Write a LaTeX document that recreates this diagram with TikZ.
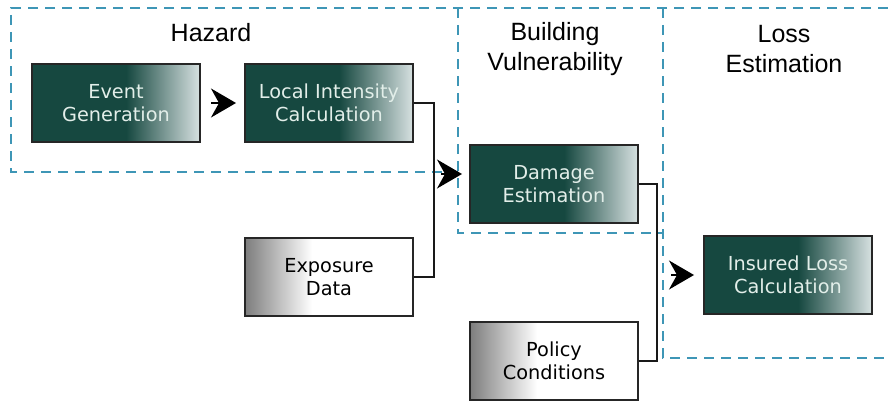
\documentclass[tikz,border=0pt]{standalone}
\usepackage{fontspec}
\usetikzlibrary{arrows.meta,positioning,calc}
\newfontfamily\boxfont{DejaVu Sans}
\newfontfamily\headfont{Liberation Sans}
\definecolor{stagedark}{RGB}{22,72,64}
\definecolor{stagefade}{RGB}{215,225,225}
\definecolor{stagetext}{RGB}{226,238,233}
\definecolor{inputgrey}{RGB}{125,125,125}
\definecolor{zoneblue}{RGB}{62,150,182}
\pgfdeclarehorizontalshading{stagefill}{100bp}{color(0bp)=(stagedark); color(25bp)=(stagedark);
    color(53bp)=(stagedark); color(75bp)=(stagefade); color(100bp)=(stagefade)}
\pgfdeclarehorizontalshading{inputfill}{100bp}{color(0bp)=(inputgrey); color(25bp)=(inputgrey);
    color(45bp)=(white); color(75bp)=(white); color(100bp)=(white)}
\tikzset{
    stagebox/.style={draw=black!85, line width=2pt, shading=stagefill, text=stagetext,
        align=center, font=\boxfont\fontsize{19.3}{22.5}\selectfont,
        minimum width=168pt, minimum height=78pt, inner sep=0pt},
    inputbox/.style={stagebox, shading=inputfill, text=black},
    flowline/.style={line width=1.8pt, black!90},
    headarrow/.style={-{Stealth[length=25pt,width=29pt,inset=8pt]}, line width=1.6pt}
}

\begin{document}
\begin{tikzpicture}[
    x=1pt, y=1pt,
    node distance=43pt,
    zone/.style={draw=zoneblue, line width=1.6pt, dash pattern=on 10pt off 7pt},
    headtext/.style={font=\headfont\fontsize{25}{30}\selectfont, align=center}
]
\useasboundingbox (0,0) rectangle (888,400);
\draw[zone] (888,392) -- (11,392) -- (11,228) -- (458,228);
\draw[zone] (458,392) -- (458,167) -- (663,167);
\draw[zone] (663,392) -- (663,42) -- (888,42);
\node[headtext, anchor=base] (hazard) at (211,359) {Hazard};
\node[headtext] (vuln) at (555,351) {Building\\Vulnerability};
\node[headtext] (loss) at (784,351) {Loss\\Estimation};
\node[stagebox] (event) at (116,297) {Event\\Generation};
\node[stagebox, right=of event] (intensity) {Local Intensity\\Calculation};
\node[inputbox, below=94pt of intensity] (exposure) {Exposure\\Data};
\node[stagebox] (damage) at (554,216) {Damage\\Estimation};
\node[inputbox, below=97pt of damage] (policy) {Policy\\Conditions};
\node[stagebox] (insured) at (788,125) {Insured Loss\\Calculation};
\coordinate (bus1) at ([xshift=20pt]intensity.east);
\coordinate (bus2) at ([xshift=18pt]damage.east);
\coordinate (dmgin) at ([yshift=10pt]damage.west);
\draw[flowline] (intensity.east) -- (bus1) |- (exposure.east);
\draw[flowline] (damage.east) -- (bus2) |- (policy.east);
\draw[headarrow, shorten <=10pt, shorten >=8pt] (event) -- (intensity);
\draw[headarrow, shorten <=7pt, shorten >=7pt] (bus1 |- dmgin) -- (dmgin);
\draw[headarrow, shorten <=14pt, shorten >=9pt] (bus2 |- insured.west) -- (insured.west);
\end{tikzpicture}
\end{document}
